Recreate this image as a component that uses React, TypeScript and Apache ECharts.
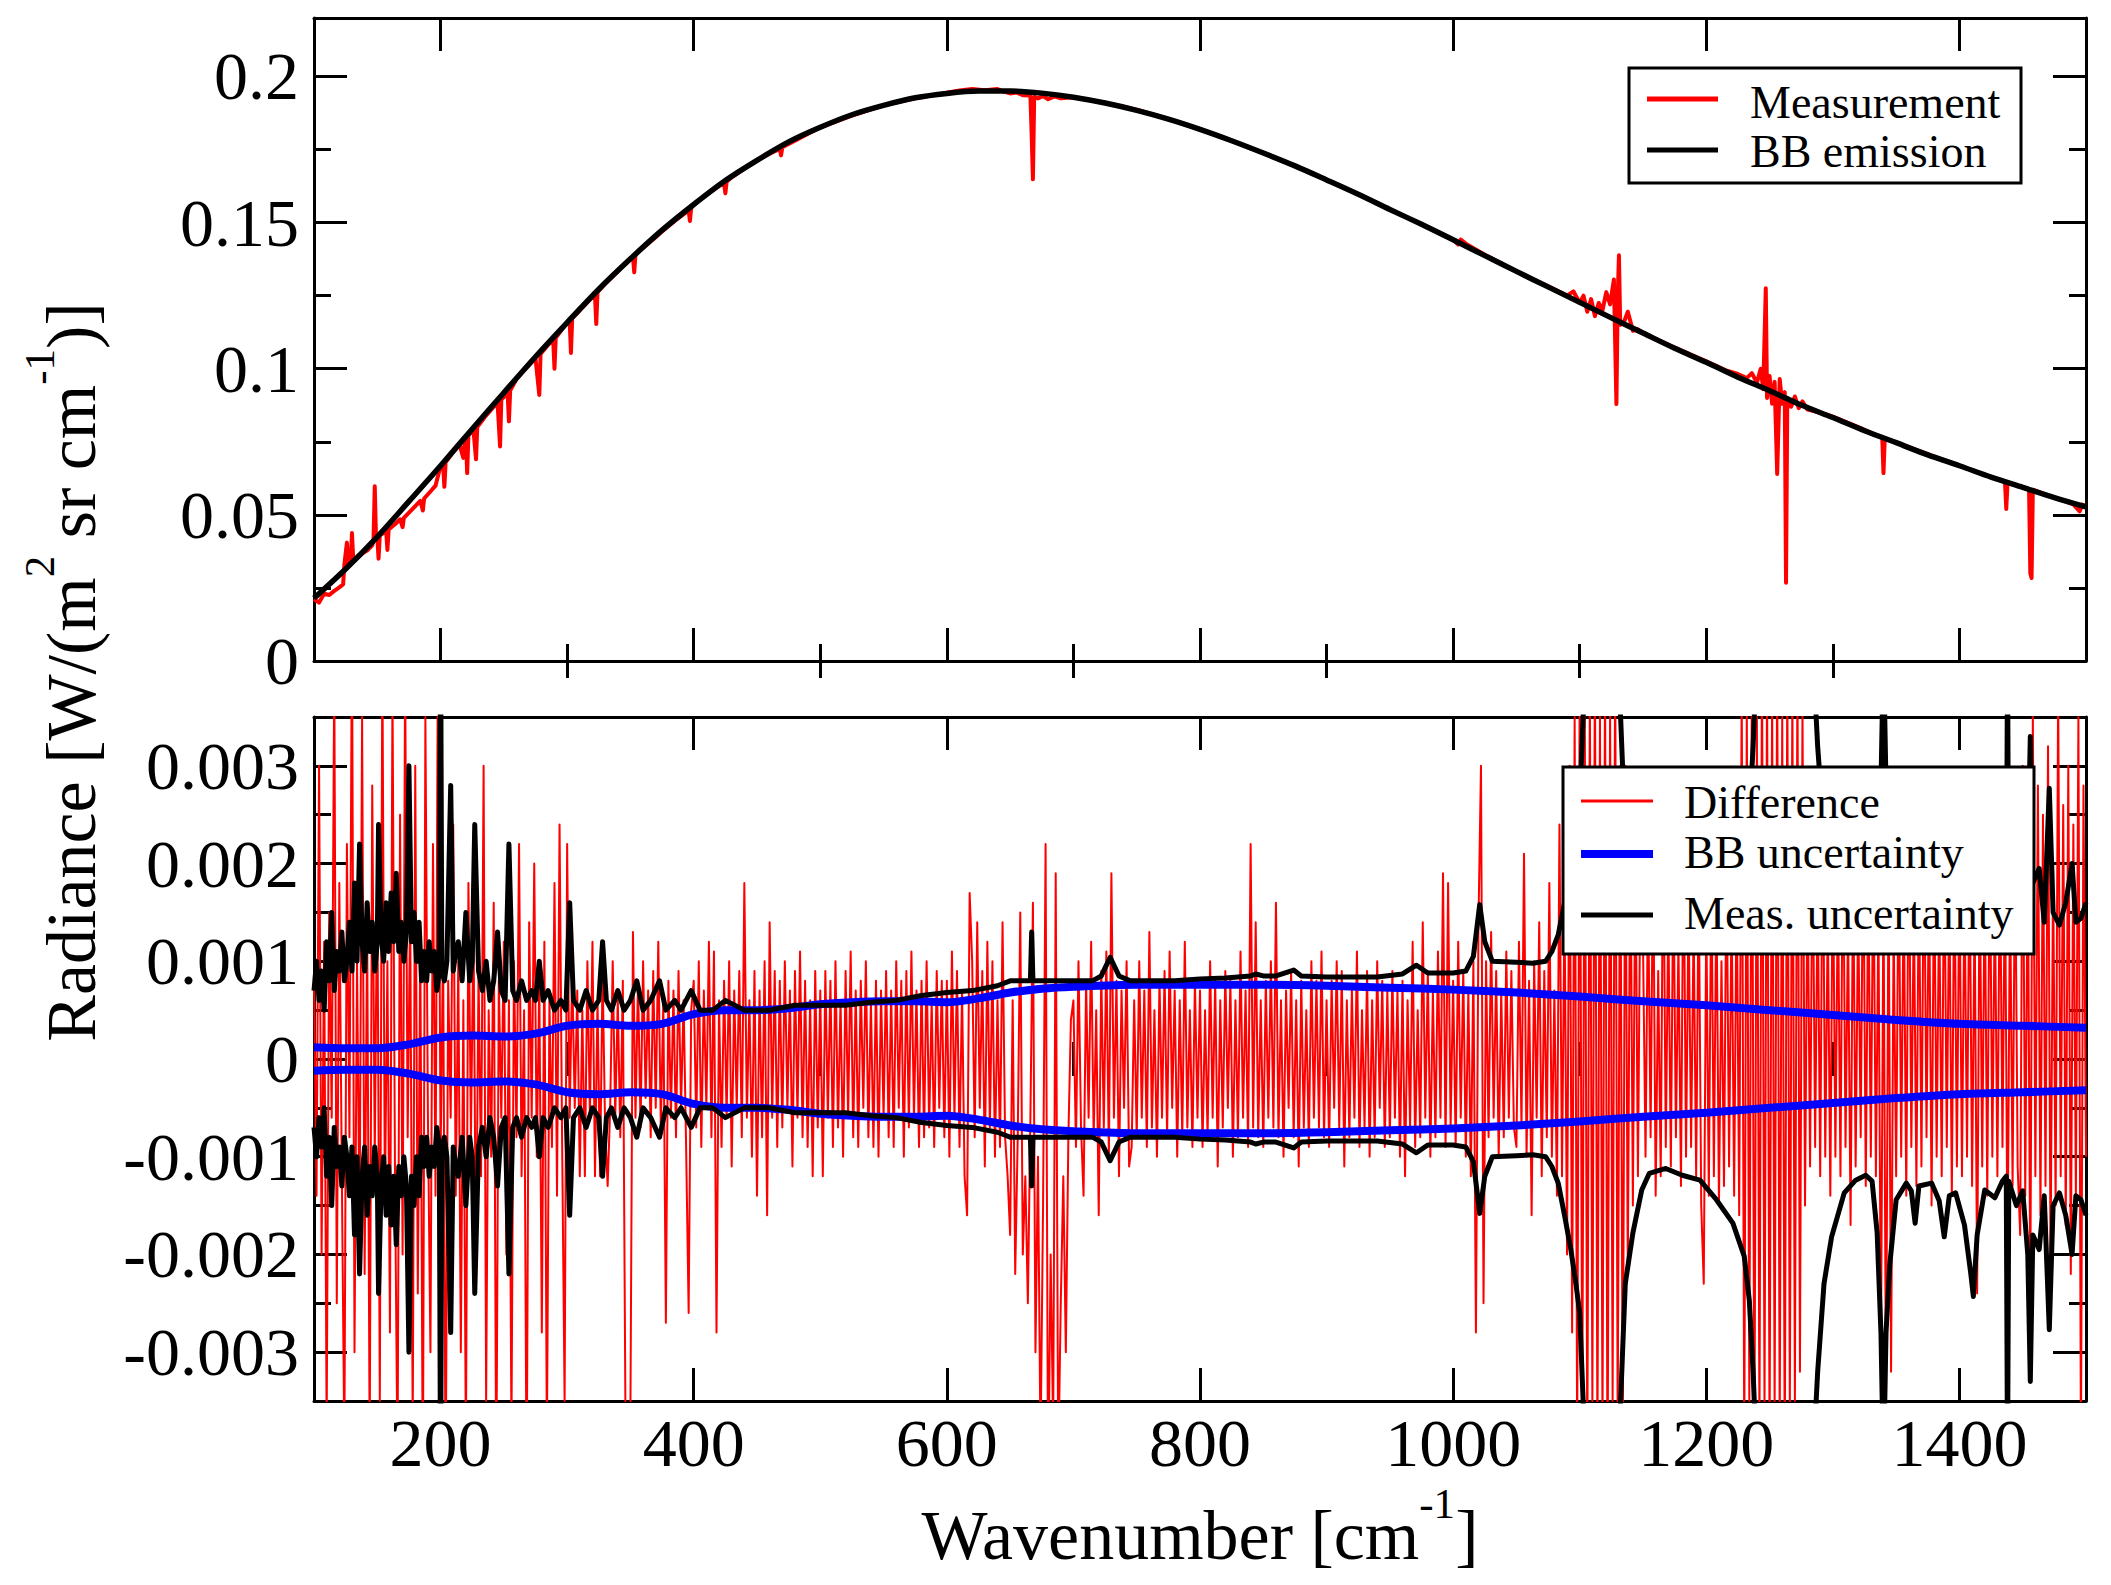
import React, { useEffect, useRef } from 'react';
import * as echarts from 'echarts';

const FONT = '"Liberation Serif", "Times New Roman", Times, serif';

// ---------- axes ----------
const X_MIN = 100;
const X_MAX = 1500;
const X_MAJOR_TICKS = [200, 400, 600, 800, 1000, 1200, 1400];
const X_TICK_LABELS = ['200', '400', '600', '800', '1000', '1200', '1400'];
const X_MINOR_TICKS = [300, 500, 700, 900, 1100, 1300];

const TOP_Y_MIN = 0;
const TOP_Y_MAX = 0.22;
const TOP_Y_TICKS = [0, 0.05, 0.1, 0.15, 0.2];
const TOP_Y_LABELS = ['0', '0.05', '0.1', '0.15', '0.2'];
const TOP_Y_MINOR = [0.025, 0.075, 0.125, 0.175];

const BOT_Y_MIN = -0.0035;
const BOT_Y_MAX = 0.0035;
const BOT_Y_TICKS = [-0.003, -0.002, -0.001, 0, 0.001, 0.002, 0.003];
const BOT_Y_LABELS = ['-0.003', '-0.002', '-0.001', '0', '0.001', '0.002', '0.003'];
const BOT_Y_MINOR = [-0.0025, -0.0015, -0.0005, 0.0005, 0.0015, 0.0025];

// ---------- top panel: black-body emission (W/(m2 sr cm-1)), every 25 cm-1 ----------
const BB_START = 100;
const BB_STEP = 25;
const BB_RADIANCE = [
  0.0215, 0.0315, 0.0425, 0.0546, 0.0668, 0.0794, 0.0918, 0.1041, 0.1158, 0.1272, 0.1376, 0.1474,
  0.1562, 0.1644, 0.1713, 0.1776, 0.1826, 0.1869, 0.1901, 0.1927, 0.1942, 0.1950, 0.1950, 0.1943,
  0.1929, 0.1909, 0.1884, 0.1854, 0.1819, 0.1780, 0.1738, 0.1694, 0.1646, 0.1597, 0.1545, 0.1494,
  0.1441, 0.1387, 0.1333, 0.1280, 0.1227, 0.1174, 0.1122, 0.1070, 0.1022, 0.0971, 0.0925, 0.0876,
  0.0833, 0.0788, 0.0747, 0.0705, 0.0668, 0.0629, 0.0594, 0.0559, 0.0527,
];

// ---------- top panel: measurement [wavenumber, radiance] ----------
const MEASUREMENT: number[][] = [
  [100, 0.0212], [104, 0.0200], [108, 0.0230], [112, 0.0226], [116, 0.0240], [120, 0.0252], [123, 0.0262],
  [124, 0.0330], [126, 0.0405], [127, 0.0335], [129, 0.0340], [130, 0.0438], [131, 0.0345], [134, 0.0352],
  [138, 0.0368], [142, 0.0378], [146, 0.0396], [147, 0.0410], [148, 0.0598], [149, 0.0418], [150, 0.0425],
  [151, 0.0350], [152, 0.0430], [155, 0.0438], [157, 0.0445], [158, 0.0380], [159, 0.0450], [164, 0.0468],
  [168, 0.0485], [170, 0.0458], [171, 0.0490], [176, 0.0512], [180, 0.0530], [184, 0.0548], [186, 0.0515],
  [187, 0.0556], [192, 0.0580], [196, 0.0600], [200, 0.0668], [202, 0.0672], [203, 0.0596], [204, 0.0680],
  [210, 0.0715], [215, 0.0740], [218, 0.0695], [219, 0.0752], [220, 0.0765], [221, 0.0643], [222, 0.0772],
  [226, 0.0790], [228, 0.0690], [229, 0.0800], [235, 0.0835], [240, 0.0860], [245, 0.0885], [247, 0.0734],
  [248, 0.0895], [253, 0.0915], [254, 0.0820], [255, 0.0925], [260, 0.0965], [265, 0.0990], [270, 0.1012],
  [275, 0.1036], [278, 0.0910], [279, 0.1050], [285, 0.1082], [289, 0.1098], [290, 0.1000], [291, 0.1106],
  [296, 0.1135], [300, 0.1158], [302, 0.1165], [303, 0.1054], [304, 0.1172], [310, 0.1200], [315, 0.1223],
  [320, 0.1245], [322, 0.1252], [323, 0.1153], [324, 0.1262], [330, 0.1290], [335, 0.1312], [340, 0.1333],
  [345, 0.1355], [350, 0.1376], [352, 0.1383], [353, 0.1330], [354, 0.1392], [360, 0.1413], [365, 0.1432],
  [370, 0.1450], [375, 0.1470], [380, 0.1488], [385, 0.1506], [390, 0.1522], [396, 0.1542], [397, 0.1505],
  [398, 0.1550], [400, 0.1562], [410, 0.1595], [420, 0.1625], [424, 0.1634], [425, 0.1600], [426, 0.1640],
  [430, 0.1655], [440, 0.1685], [450, 0.1713], [460, 0.1736], [468, 0.1752], [469, 0.1730], [470, 0.1758],
  [480, 0.1780], [500, 0.1826], [525, 0.1866], [550, 0.1901], [575, 0.1925], [600, 0.1944], [610, 0.1952],
  [620, 0.1957], [630, 0.1953], [640, 0.1957], [645, 0.1948], [650, 0.1942], [655, 0.1945], [660, 0.1936],
  [666, 0.1935], [667, 0.1800], [668, 0.1648], [669, 0.1930], [672, 0.1925], [676, 0.1933], [680, 0.1922],
  [685, 0.1932], [690, 0.1925], [700, 0.1929], [725, 0.1910], [750, 0.1886], [775, 0.1855], [800, 0.1820],
  [825, 0.1780], [850, 0.1738], [875, 0.1694], [900, 0.1646], [925, 0.1597], [950, 0.1545], [975, 0.1494],
  [1000, 0.1441], [1004, 0.1425], [1006, 0.1442], [1010, 0.1428], [1025, 0.1390], [1050, 0.1333],
  [1075, 0.1282], [1090, 0.1250], [1095, 0.1265], [1100, 0.1225], [1103, 0.1250], [1106, 0.1195],
  [1109, 0.1238], [1112, 0.1180], [1115, 0.1225], [1118, 0.1200], [1121, 0.1262], [1124, 0.1220],
  [1127, 0.1305], [1129, 0.0879], [1130, 0.1240], [1131, 0.1388], [1132, 0.1150], [1135, 0.1160],
  [1138, 0.1195], [1142, 0.1130], [1146, 0.1135], [1150, 0.1122], [1175, 0.1072], [1200, 0.1025],
  [1215, 0.0995], [1225, 0.0982], [1232, 0.0968], [1236, 0.0985], [1240, 0.0952], [1243, 0.1000],
  [1245, 0.0930], [1247, 0.1275], [1248, 0.0900], [1250, 0.0975], [1252, 0.0880], [1254, 0.0955],
  [1256, 0.0640], [1258, 0.0965], [1260, 0.0880], [1262, 0.0920], [1263, 0.0268], [1264, 0.0900],
  [1267, 0.0870], [1270, 0.0905], [1273, 0.0865], [1276, 0.0888], [1280, 0.0860], [1290, 0.0850],
  [1300, 0.0836], [1320, 0.0800], [1335, 0.0772], [1339, 0.0765], [1340, 0.0643], [1341, 0.0762],
  [1350, 0.0748], [1375, 0.0708], [1400, 0.0668], [1420, 0.0638], [1436, 0.0612], [1437, 0.0520],
  [1438, 0.0610], [1455, 0.0588], [1456, 0.0300], [1457, 0.0284], [1458, 0.0586], [1470, 0.0566],
  [1480, 0.0552], [1490, 0.0536], [1495, 0.0512], [1497, 0.0535], [1500, 0.0530],
];

// ---------- bottom panel (values in units of 1e-4 W/(m2 sr cm-1)) ----------
const BOTTOM_UNIT = 1e-4;
const DIFF_START = 100;
const DIFF_STEP = 2;
const DIFFERENCE = [
  8, -14, 30, -20, 12, -38, 15, -6, 40, -25, 18, -12, -40, 22, -8, 45, -30, 10, -18, 35, -22, 14, -40, 28, -10,
  20, -35, 42, -15, 10, -28, 38, -12, -42, 25, -20, 40, -8, 16, -38, 30, -24, 12, -45, 35, -6, -30, 22, -14, 45,
  -10, 12, -45, 8, -6, 24, -14, 10, -30, 6, -40, 18, -8, 14, -22, 9, -12, 30, -35, 5, -10, 16, -45, 8, -6,
  12, -20, 6, -38, 10, -8, 22, -12, 5, -45, 14, -6, 20, -10, 8, -28, 12, -40, 6, -9, 18, -14, 24, -8, -35,
  22, -6, 9, -5, 7, -12, 5, -12, 10, -6, 12, -12, 6, -12, 9, -7, -13, -5, 10, -6, 6, -8, 8, -35, -38,
  -36, 13, -6, 8, -7, 10, -4, 7, -8, 9, -5, 12, -7, 6, -27, 8, -6, 7, -8, 9, -5, 6, -9, -26, 5,
  8, -7, 10, -9, 7, -5, 12, -8, 11, -28, 6, -9, 8, -6, 10, -11, 7, -5, 9, -8, 18, -6, 6, -10, 9,
  -14, 7, -8, 10, -16, 14, -6, 9, -9, 8, -7, 10, -5, 7, -11, 9, -6, 11, -8, 8, -9, 6, -12, 9, -7,
  7, -12, 9, -6, 8, -9, 10, -7, 6, -10, 9, -6, 11, -8, 7, -9, 8, -5, 10, -8, 6, -9, 8, -10, 7,
  -6, 9, -8, 7, -9, 10, -5, 8, -10, 9, -7, 11, -6, 7, -9, 8, -8, 10, -7, 6, -9, 9, -5, 8, -8,
  8, -10, 11, -6, 9, -9, 7, -12, -16, 17, 10, -8, 14, -5, 9, -11, 12, -7, 10, -10, 6, -9, 14, -8, -12,
  -18, 6, -22, -8, 15, -20, -12, -25, -6, 16, -30, -10, -40, -15, 22, -45, -20, -38, 19, -42, -25, -12, -30, -8, 4,
  6, -9, 10, -7, -14, 8, -6, 12, -8, 5, -16, 9, -7, 11, -10, 19, -6, 8, -12, 7, -5, 10, -11, -9, 6,
  -8, 10, -6, 7, -9, 13, -7, 5, -10, 8, -6, 9, -8, 11, -5, 7, -10, 6, -8, 12, -7, 5, -9, 8, -6,
  7, -9, 5, -8, 10, -6, 8, -11, 6, -7, 9, -5, 8, -10, 6, -8, 11, -6, 7, -9, 22, -7, 14, -8, 6,
  -9, 8, -6, 10, -7, 16, -8, 6, -10, 7, -5, 9, -8, 6, -11, 8, -7, 5, -9, 10, -6, 8, -7, 11, -8,
  6, -9, 8, -5, 10, -7, 9, -11, 6, -8, 7, -6, 11, -9, 5, -7, 9, -10, 6, -8, 10, -5, 8, -9, 7,
  -8, 9, -6, 7, -10, 8, -12, 6, -7, 12, -9, 5, -8, 14, -6, 9, -10, 7, -8, 11, -6, 19, -9, 18, -7,
  8, -9, 12, -6, 9, -10, 7, -12, 10, -28, 14, 30, -25, 10, -8, 13, -6, 9, -10, 7, -8, 11, -6, 9, -7,
  -9, 12, -7, 21, -10, 8, -16, 10, -6, 14, -12, 9, -8, 18, -10, 7, -14, 24, -12, 16, -20, 30, -28, 35, -40,
  40, -38, 36, -42, 38, -35, 42, -40, 35, -38, 40, -45, 36, -35, 42, -38, 30, -40, 30, -22, 25, -15, 22, -12, 20,
  12, -10, 18, -8, 22, -14, 9, -12, 25, -9, 15, -11, 20, -8, 12, -13, 24, -10, 16, -9, 14, -12, 19, -15, -23,
  15, -14, 20, -12, 18, -15, 10, -13, 22, -11, 16, -14, 19, -16, 38, -40, 36, -35, 40, -42, 35, -38, 42, -36, 40,
  -40, 38, -36, 42, -38, 35, -42, 40, -36, 38, -35, 40, -32, 36, -15, 20, -11, 24, -9, 18, -12, 26, -10, 15, -14,
  22, -10, 18, -12, 25, -9, 14, -17, 20, -11, 16, -8, 24, -13, 19, -10, 22, -12, 15, -30, 18, -36, 20, -32, 14,
  -12, 22, -10, 18, -14, 25, -9, 16, -13, 20, -11, 24, -8, 19, -15, 21, -10, 17, -12, 23, -9, 18, -14, 22, -11,
  20, -12, 18, -10, 22, -13, 16, -24, 21, -11, 19, -14, 24, -10, 17, -12, 22, -9, 20, -21, 18, -13, 23, -11, -18,
  30, -14, 22, -24, 35, -12, 28, -16, 25, -13, 32, -21, 20, -15, 38, -12, 26, -17, 30, -22, 24, -14, 35, -40, 28,
  -10,
];

// BB uncertainty (+/-), [wavenumber, value * 1e-4]
const BB_UNCERTAINTY: number[][] = [
  [100, 1.2], [125, 1.1], [150, 1.1], [175, 1.5], [200, 2.2], [225, 2.4], [250, 2.3], [275, 2.6], [300, 3.4],
  [325, 3.6], [350, 3.4], [375, 3.6], [400, 4.6], [425, 5.0], [450, 5.0], [475, 5.2], [500, 5.6], [525, 5.8],
  [550, 5.9], [575, 5.9], [600, 5.8], [625, 6.2], [650, 6.8], [675, 7.2], [700, 7.4], [750, 7.6], [800, 7.6],
  [850, 7.6], [900, 7.5], [950, 7.3], [1000, 7.1], [1050, 6.8], [1100, 6.4], [1150, 5.9], [1200, 5.5],
  [1250, 5.0], [1300, 4.5], [1350, 4.0], [1400, 3.6], [1450, 3.4], [1500, 3.2],
];

// Measurement uncertainty (+/-), [wavenumber, value * 1e-4]
const MEAS_UNCERTAINTY: number[][] = [
  [100, 7], [102, 10], [104, 6], [106, 9], [108, 5], [110, 12], [112, 8], [114, 15], [116, 7], [118, 11],
  [120, 9], [122, 13], [124, 8], [126, 10], [128, 14], [130, 9], [132, 18], [134, 10], [136, 22], [138, 12],
  [140, 9], [142, 16], [144, 11], [146, 14], [148, 9], [150, 12], [151, 24], [153, 13], [155, 10], [157, 16],
  [159, 11], [161, 17], [163, 12], [165, 19], [167, 11], [169, 14], [171, 10], [173, 13], [175, 30], [177, 12],
  [179, 15], [181, 10], [183, 14], [185, 8], [187, 11], [189, 8], [191, 12], [193, 9], [195, 11], [197, 7],
  [199, 9], [200, 45], [201, 9], [203, 8], [205, 10], [208, 28], [210, 9], [212, 11], [214, 12], [217, 8],
  [220, 15], [223, 8], [225, 10], [227, 24], [230, 9], [233, 7], [236, 10], [239, 6], [242, 8], [245, 13],
  [248, 7], [251, 6], [254, 22], [257, 7], [260, 6], [264, 8], [268, 6], [272, 7], [275, 6], [278, 10],
  [281, 6], [285, 7], [290, 5], [295, 6], [299, 5], [302, 16], [305, 6], [310, 5], [315, 7], [320, 5],
  [325, 6], [328, 12], [331, 6], [335, 5], [340, 7], [345, 5], [350, 6], [355, 8], [360, 5], [366, 6],
  [373, 8], [378, 5], [385, 6], [390, 5], [398, 7], [405, 5], [415, 5], [425, 6], [440, 5], [460, 5],
  [480, 5.5], [500, 5.5], [520, 5.5], [540, 5.8], [560, 6], [580, 6.5], [600, 6.8], [620, 7], [640, 7.5],
  [650, 8], [660, 8], [666, 8], [667, 13], [668, 8], [680, 8], [700, 8], [715, 8], [722, 8.5], [729, 10.4],
  [736, 8.5], [745, 8], [760, 8], [780, 8], [800, 8.2], [820, 8.3], [840, 8.5], [844, 8.7], [850, 8.5],
  [860, 8.5], [874, 9.1], [880, 8.5], [900, 8.4], [920, 8.4], [940, 8.4], [960, 8.7], [971, 9.6], [980, 8.8],
  [1000, 8.8], [1010, 9], [1016, 10.5], [1021, 15.8], [1025, 12], [1031, 10], [1050, 9.9], [1063, 9.8],
  [1073, 10], [1078, 11], [1083, 12.7], [1088, 16], [1093, 19.5], [1097, 23], [1100, 26], [1103, 36],
  [1106, 42], [1128, 42], [1132, 36], [1136, 23], [1142, 17.8], [1149, 13.4], [1155, 11.7], [1168, 11.2],
  [1181, 11.9], [1195, 12.4], [1208, 14.4], [1221, 16.8], [1230, 20.2], [1234, 24.7], [1237, 32],
  [1240, 42], [1284, 42], [1288, 32], [1293, 23], [1299, 18.2], [1309, 13.7], [1318, 12.4], [1326, 11.9],
  [1331, 12.5], [1335, 17.8], [1338, 28], [1340, 42], [1342, 28], [1345, 21], [1350, 14.4], [1358, 12.7],
  [1362, 13.5], [1365, 16.8], [1368, 13], [1378, 12.7], [1384, 14.5], [1388, 18.2], [1392, 14],
  [1397, 13.7], [1404, 17], [1409, 22], [1411, 24.3], [1414, 18], [1420, 13.4], [1428, 14.2], [1434, 12.5],
  [1437, 12], [1438, 42], [1439, 12.5], [1445, 15], [1450, 13.5], [1454, 20], [1456, 33], [1458, 18],
  [1463, 19.5], [1467, 14], [1471, 27.7], [1474, 15], [1479, 13.7], [1484, 16], [1489, 20], [1492, 14],
  [1496, 14.4], [1500, 16],
];

// ---------- helpers ----------
const RED = '#ff0000';
const BLUE = '#0000ff';
const BLACK = '#000000';

function labelFor(v: number, ticks: number[], labels: string[]) {
  for (let i = 0; i < ticks.length; i++) {
    if (Math.abs(ticks[i] - v) < 1e-9) return labels[i];
  }
  return '';
}

const tickLine = { color: BLACK, width: 3 };
const borderLine = { show: true, onZero: false, lineStyle: { color: BLACK, width: 3 } };

function xAxes(gridIndex: number, withLabels: boolean) {
  const base = { gridIndex, type: 'value', min: X_MIN, max: X_MAX, splitLine: { show: false } };
  const major = { show: true, inside: true, length: 33, customValues: X_MAJOR_TICKS, lineStyle: tickLine };
  const minor = { show: true, inside: true, length: 17, customValues: X_MINOR_TICKS, lineStyle: tickLine };
  return [
    {
      ...base, position: 'bottom', axisLine: borderLine, axisTick: major,
      axisLabel: {
        show: withLabels, customValues: X_MAJOR_TICKS, margin: 8, fontSize: 68, fontFamily: FONT, color: BLACK,
        formatter: (v: number) => labelFor(v, X_MAJOR_TICKS, X_TICK_LABELS),
      },
    },
    { ...base, position: 'bottom', axisLine: { show: false }, axisTick: minor, axisLabel: { show: false } },
    { ...base, position: 'top', axisLine: borderLine, axisTick: major, axisLabel: { show: false } },
    { ...base, position: 'top', axisLine: { show: false }, axisTick: minor, axisLabel: { show: false } },
  ];
}

function yAxes(gridIndex: number, min: number, max: number, ticks: number[], labels: string[], minorTicks: number[]) {
  const base = { gridIndex, type: 'value', min, max, splitLine: { show: false } };
  const major = { show: true, inside: true, length: 33, customValues: ticks, lineStyle: tickLine };
  const minor = { show: true, inside: true, length: 17, customValues: minorTicks, lineStyle: tickLine };
  return [
    {
      ...base, position: 'left', axisLine: borderLine, axisTick: major,
      axisLabel: {
        show: true, customValues: ticks, margin: 15, fontSize: 68, fontFamily: FONT, color: BLACK,
        formatter: (v: number) => labelFor(v, ticks, labels),
      },
    },
    { ...base, position: 'left', axisLine: { show: false }, axisTick: minor, axisLabel: { show: false } },
    { ...base, position: 'right', axisLine: borderLine, axisTick: major, axisLabel: { show: false } },
    { ...base, position: 'right', axisLine: { show: false }, axisTick: minor, axisLabel: { show: false } },
  ];
}

function lineSeries(xi: number, data: number[][], color: string, width: number, z: number, smooth: boolean | number = false) {
  return {
    type: 'line', xAxisIndex: xi, yAxisIndex: xi, data, showSymbol: false, symbol: 'none',
    smooth, clip: true, silent: true, z,
    lineStyle: { color, width, join: 'round' }, itemStyle: { color }, emphasis: { disabled: true },
  };
}

function legendText(text: string, x: number, y: number, size: number) {
  return {
    type: 'text', x, y, z: 102,
    style: {
      text, fill: BLACK, fontSize: size, fontFamily: FONT,
      align: 'left', verticalAlign: 'middle', textAlign: 'left', textVerticalAlign: 'middle',
    },
  };
}

function legendLine(x1: number, x2: number, y: number, color: string, width: number) {
  return { type: 'line', z: 101, shape: { x1, y1: y, x2, y2: y }, style: { stroke: color, lineWidth: width } };
}

// main text sits at the bottom of an 89px line, superscript at its top
const titleRich = {
  m: { fontSize: 70, fontFamily: FONT, color: BLACK, lineHeight: 74, verticalAlign: 'bottom' },
  s: { fontSize: 43, fontFamily: FONT, color: BLACK, lineHeight: 89, verticalAlign: 'top' },
};

export default function App() {
  const ref = useRef<HTMLDivElement>(null);

  useEffect(() => {
    if (!ref.current) return;
    const chart = echarts.init(ref.current, null, { renderer: 'svg' });

    const bbData = BB_RADIANCE.map((v, i) => [BB_START + i * BB_STEP, v]);
    const diffData = DIFFERENCE.map((v, i) => [DIFF_START + i * DIFF_STEP, v * BOTTOM_UNIT]);
    const bbUncPlus = BB_UNCERTAINTY.map(([w, v]) => [w, v * BOTTOM_UNIT]);
    const bbUncMinus = BB_UNCERTAINTY.map(([w, v]) => [w, -v * BOTTOM_UNIT]);
    const measUncPlus = MEAS_UNCERTAINTY.map(([w, v]) => [w, v * BOTTOM_UNIT]);
    const measUncMinus = MEAS_UNCERTAINTY.map(([w, v]) => [w, -v * BOTTOM_UNIT]);

    const option: any = {
      animation: false,
      backgroundColor: '#ffffff',
      grid: [
        { left: 314, top: 18, width: 1772, height: 643 },
        { left: 314, top: 717, width: 1772, height: 684 },
      ],
      xAxis: [...xAxes(0, false), ...xAxes(1, true)],
      yAxis: [
        ...yAxes(0, TOP_Y_MIN, TOP_Y_MAX, TOP_Y_TICKS, TOP_Y_LABELS, TOP_Y_MINOR),
        ...yAxes(1, BOT_Y_MIN, BOT_Y_MAX, BOT_Y_TICKS, BOT_Y_LABELS, BOT_Y_MINOR),
      ],
      series: [
        lineSeries(0, MEASUREMENT, RED, 4, 2),
        lineSeries(0, bbData, BLACK, 5.5, 3, 0.3),
        lineSeries(4, diffData, RED, 2, 2),
        lineSeries(4, bbUncPlus, BLUE, 8, 3, 0.3),
        lineSeries(4, bbUncMinus, BLUE, 8, 3, 0.3),
        lineSeries(4, measUncPlus, BLACK, 5, 4),
        lineSeries(4, measUncMinus, BLACK, 5, 4),
      ],
      graphic: [
        // top legend
        { type: 'rect', z: 100, shape: { x: 1629, y: 68, width: 392, height: 115 },
          style: { fill: '#ffffff', stroke: BLACK, lineWidth: 3 } },
        legendLine(1647, 1718, 99, RED, 5),
        legendLine(1647, 1718, 150, BLACK, 5),
        legendText('Measurement', 1750, 102, 46),
        legendText('BB emission', 1750, 151, 46),
        // bottom legend
        { type: 'rect', z: 100, shape: { x: 1563, y: 767, width: 471, height: 187 },
          style: { fill: '#ffffff', stroke: BLACK, lineWidth: 3 } },
        legendLine(1581, 1653, 801, RED, 3),
        legendLine(1581, 1653, 854, BLUE, 8),
        legendLine(1581, 1653, 915, BLACK, 5),
        legendText('Difference', 1684, 802, 46),
        legendText('BB uncertainty', 1684, 852, 46),
        legendText('Meas. uncertainty', 1684, 913, 46),
        // axis titles
        {
          type: 'text', x: 1200, y: 1526, z: 102,
          style: {
            text: '{m|Wavenumber [cm}{s|-1}{m|]}', rich: titleRich,
            align: 'center', verticalAlign: 'middle', textAlign: 'center', textVerticalAlign: 'middle',
          },
        },
        {
          type: 'text', x: 62, y: 672, rotation: Math.PI / 2, z: 102,
          style: {
            text: '{m|Radiance [W/(m}{s|2}{m| sr cm}{s|-1}{m|)]}', rich: titleRich,
            align: 'center', verticalAlign: 'middle', textAlign: 'center', textVerticalAlign: 'middle',
          },
        },
      ],
    };

    chart.setOption(option);
    return () => chart.dispose();
  }, []);

  return (
    <div
      ref={ref}
      style={{ position: 'absolute', left: 0, top: 0, width: 2111, height: 1585, background: '#ffffff' }}
    />
  );
}
